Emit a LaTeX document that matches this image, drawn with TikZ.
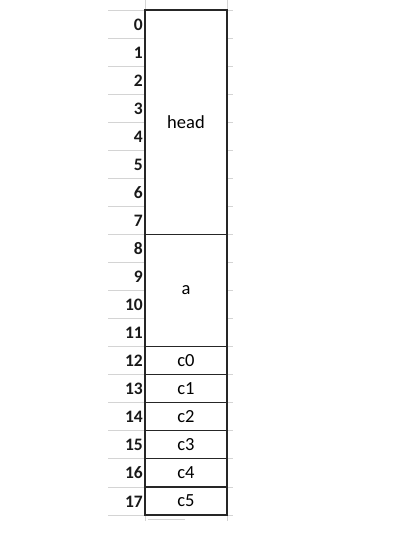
\documentclass[tikz,border=0pt]{standalone}
\usepackage{fontspec}
\setmainfont{Carlito}
\tikzset{
  gridline/.style={draw=black!17, line width=0.8pt},
  cellline/.style={draw=black!85, line width=1.2pt},
  rownum/.style={anchor=base east, inner sep=0pt, font=\fontsize{17.5}{17.5}\selectfont\bfseries, text=black!90},
  celltext/.style={anchor=center, inner sep=0pt, font=\fontsize{18.5}{18.5}\selectfont, text=black}
}
\begin{document}
\begin{tikzpicture}[x=1pt,y=-1pt]
\useasboundingbox (0,0) rectangle (400,543);
\def\rh{28.0556}
% grey spreadsheet grid
\foreach \i in {0,...,18}{
  \draw[gridline] (108,{10+\rh*\i}) -- (145,{10+\rh*\i});
  \draw[gridline] (227,{10+\rh*\i}) -- (233,{10+\rh*\i});
}
\draw[gridline] (145,0) -- (145,10);
\draw[gridline] (227,0) -- (227,10);
\draw[gridline] (145,515) -- (145,521);
\draw[gridline] (227,515) -- (227,521);
\draw[gridline] (148,519) -- (185,519);
% row numbers
\foreach \i in {0,...,17}{
  \node[rownum] (n\i) at (143,{10+\rh*(\i+1)-8}) {\i};
}
% cells
\draw[cellline] (145,10) rectangle (227,515);
\draw[cellline] (145,{10+\rh*8}) -- (227,{10+\rh*8});
\foreach \i in {12,...,17}{
  \draw[cellline] (145,{10+\rh*\i}) -- (227,{10+\rh*\i});
}
\node[celltext] (head) at (186,{10+\rh*4}) {head};
\node[celltext] (a) at (186,{10+\rh*10}) {a};
\foreach \j in {0,...,5}{
  \node[celltext] (c\j) at (186,{10+\rh*(12+\j+0.5)}) {c\j};
}
\end{tikzpicture}
\end{document}
